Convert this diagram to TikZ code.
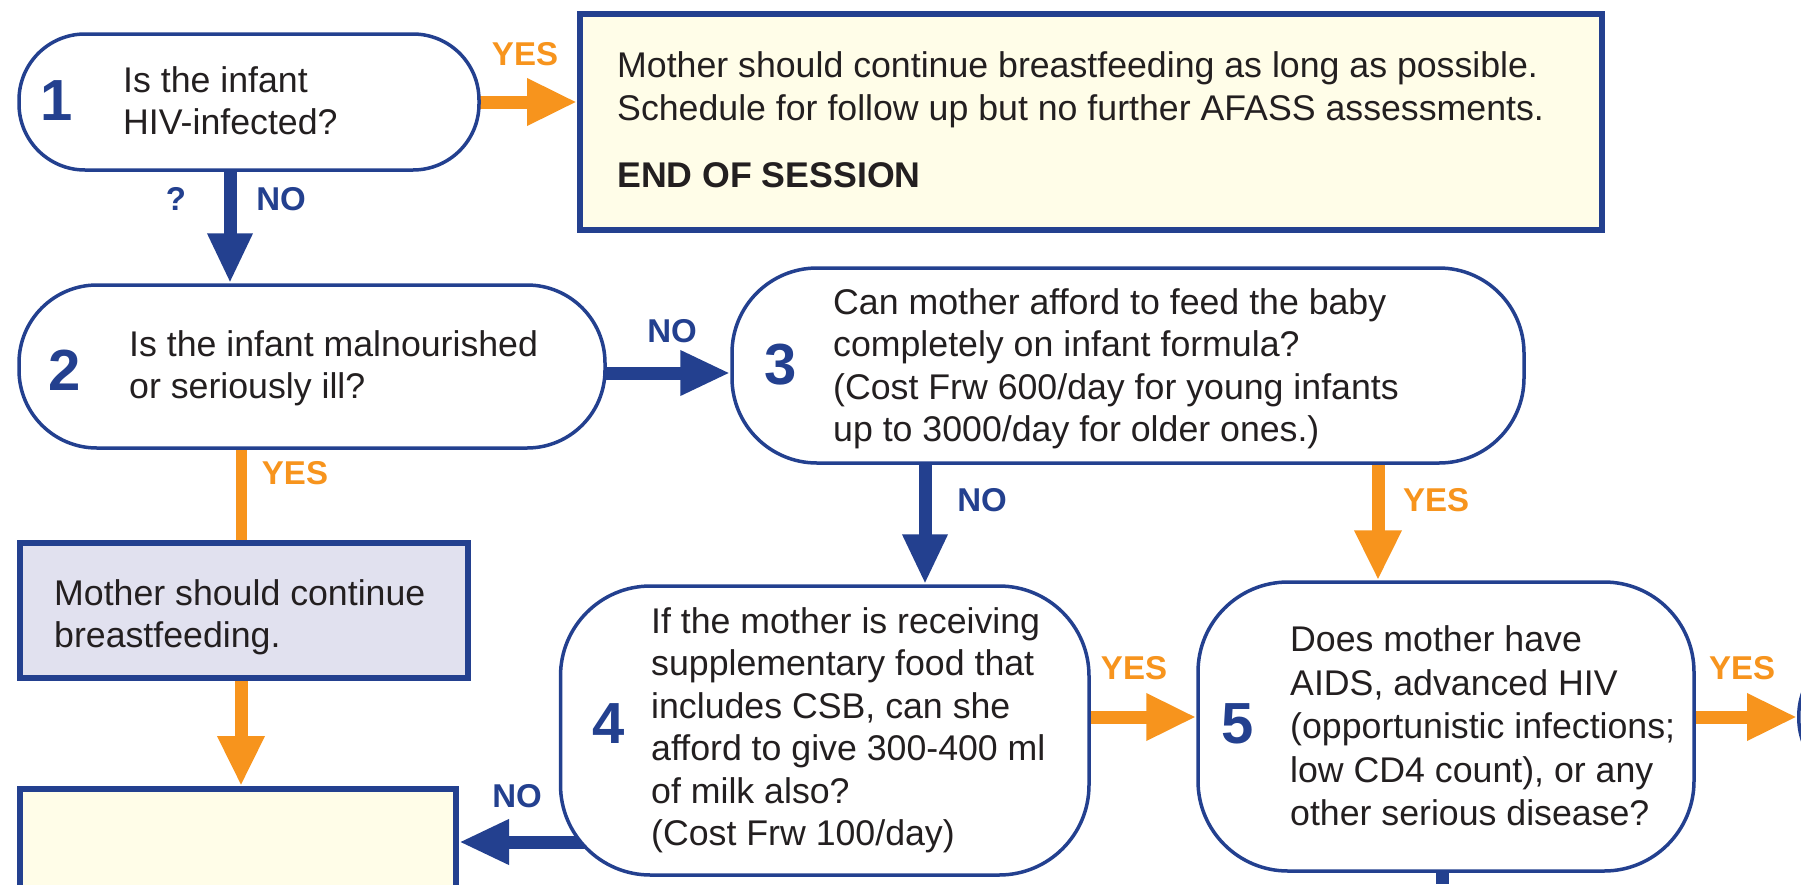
\documentclass[tikz,border=0pt]{standalone}
\usepackage{fontspec}
\setmainfont{Liberation Sans}
\usetikzlibrary{arrows.meta,calc}
\definecolor{navy}{RGB}{35,64,143}
\definecolor{orng}{RGB}{247,148,29}
\definecolor{cream}{RGB}{255,253,232}
\definecolor{lav}{RGB}{225,225,239}
\definecolor{ink}{RGB}{35,31,32}
\pgfdeclarelayer{back}
\pgfdeclarelayer{bg}
\pgfsetlayers{back,bg,main}
\tikzset{
  qbox/.style={draw=navy, line width=3.5pt, fill=white, rectangle, inner sep=0},
  rbox/.style={draw=navy, line width=6pt, rectangle, inner sep=0},
  num/.style={font=\fontsize{58}{58}\selectfont\bfseries, text=navy, inner sep=0},
  txt/.style={font=\fontsize{35.7}{42.5}\selectfont, text=ink, align=left, inner sep=0, anchor=west},
  lab/.style={font=\fontsize{33}{33}\selectfont\bfseries, inner sep=0},
  nolab/.style={lab, text=navy},
  yeslab/.style={lab, text=orng},
  barrow/.style={draw=navy, line width=13pt, -{Triangle[length=50pt,width=42pt]}},
  oarrow/.style={draw=orng, line width=13pt, -{Triangle[length=50pt,width=44pt]}},
  oline/.style={draw=orng, line width=11pt},
  bline/.style={draw=navy, line width=13pt},
}
\begin{document}
\begin{tikzpicture}[x=1pt,y=-1pt]
\useasboundingbox (0,0) rectangle (1801,884);
\begin{pgfonlayer}{back}
\fill[white] (0,0) rectangle (1801,884);
\end{pgfonlayer}
\clip (0,0) rectangle (1801,884);

% boxes
\node[qbox, rounded corners=66pt, minimum width=460pt, minimum height=136pt] (b1) at (249,102) {};
\node[rbox, fill=cream, minimum width=1022pt, minimum height=216pt] (bend) at (1091,122) {};
\node[qbox, rounded corners=78pt, minimum width=586pt, minimum height=163pt] (b2) at (312,366.5) {};
\node[qbox, rounded corners=85pt, minimum width=792pt, minimum height=195pt] (b3) at (1128,365.5) {};
\node[rbox, fill=lav, minimum width=448pt, minimum height=135pt] (blav) at (243.5,610.5) {};
\node[rbox, fill=cream, minimum width=436.5pt, minimum height=211pt] (bbot) at (237.75,894.5) {};
\node[qbox, rounded corners=90pt, minimum width=528.5pt, minimum height=289pt] (b4) at (824.75,730.5) {};
\node[qbox, rounded corners=90pt, minimum width=496pt, minimum height=289pt] (b5) at (1446,726.5) {};
\node[qbox, rounded corners=70pt, minimum width=500pt, minimum height=142pt, anchor=west] (b6) at (1797,717) {};

% numbers
\node[num] (n1) at (57,101) {1};
\node[num] (n2) at (65,370) {2};
\node[num] (n3) at (781,365) {3};
\node[num] (n4) at (609,724) {4};
\node[num] (n5) at (1238,724) {5};

% texts
\node[txt] (t1) at (123,100.5) {Is the infant\\HIV-infected?};
\node[txt] (tend) at (617,90) {Mother should continue breastfeeding as long as possible.\\Schedule for follow up but no further AFASS assessments.};
\node[txt, font=\fontsize{35.7}{42.5}\selectfont\bfseries] (tendb) at (617,175) {END OF SESSION};
\node[txt] (t2) at (129,368.5) {Is the infant malnourished\\or seriously ill?};
\node[txt] (t3) at (833,368.6) {Can mother afford to feed the baby\\completely on infant formula?\\(Cost Frw 600/day for young infants\\up to 3000/day for older ones.)};
\node[txt] (tlav) at (54,617.5) {Mother should continue\\breastfeeding.};
\node[txt] (t4) at (651,730.5) {If the mother is receiving\\supplementary food that\\includes CSB, can she\\afford to give 300-400 ml\\of milk also?\\(Cost Frw 100/day)};
\node[txt, font=\fontsize{35.7}{43.5}\selectfont] (t5) at (1290,725.8) {Does mother have\\AIDS, advanced HIV\\(opportunistic infections;\\low CD4 count), or any\\other serious disease?};

% labels
\node[yeslab] (l1y) at (525,54) {YES};
\node[nolab] (l1q) at (176,199) {?};
\node[nolab] (l1n) at (281,199) {NO};
\node[nolab] (l2n) at (672,331) {NO};
\node[yeslab] (l2y) at (295,473) {YES};
\node[nolab] (l3n) at (982,500) {NO};
\node[yeslab] (l3y) at (1436,500) {YES};
\node[nolab] (l4n) at (517,796) {NO};
\node[yeslab] (l4y) at (1134,668.5) {YES};
\node[yeslab] (l5y) at (1742,668.5) {YES};

% helper coordinates
\coordinate (x12) at (230,0);
\coordinate (y23) at (0,373);
\coordinate (x34) at (925,0);
\coordinate (x35) at (1378,0);
\coordinate (xlav) at (241,0);
\coordinate (y4b) at (0,842);
\coordinate (y45) at (0,717);
\coordinate (x4in) at (620,0);
\coordinate (x5out) at (1442,0);
\coordinate (b5end) at (1442,884);

\begin{pgfonlayer}{bg}
\draw[oarrow] (b1.center) -- (bend.west |- b1.center);
\draw[barrow] (b1.center -| x12) -- (b2.north -| x12);
\draw[barrow] (b2.center |- y23) -- (b3.west |- y23);
\draw[barrow] (b3.center -| x34) -- (b4.north -| x34);
\draw[oarrow] (b3.center -| x35) -- (b5.north -| x35);
\draw[oline] (b2.center -| xlav) -- (blav.north -| xlav);
\draw[oarrow] (blav.center -| xlav) -- (bbot.north -| xlav);
\draw[barrow] (x4in |- y4b) -- (bbot.east |- y4b);
\draw[oarrow] (b4.center |- y45) -- (b5.west |- y45);
\draw[oarrow] (b5.center |- y45) -- (b6.west |- y45);
\draw[bline] (b5.center -| x5out) -- (b5end);
\end{pgfonlayer}
\end{tikzpicture}
\end{document}
